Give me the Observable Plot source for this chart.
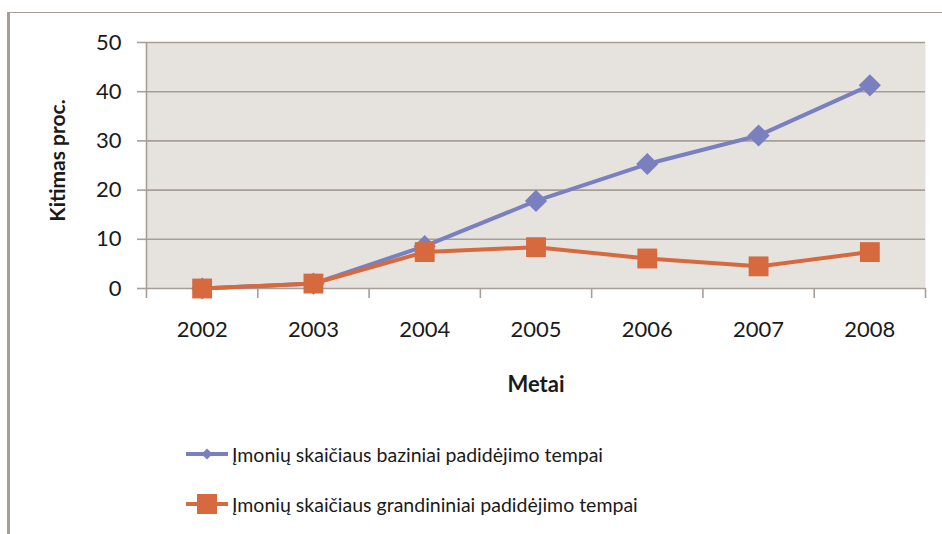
<!DOCTYPE html>
<html>
<head>
<meta charset="utf-8">
<script src="https://cdn.jsdelivr.net/npm/d3@7"></script>
<script src="https://cdn.jsdelivr.net/npm/@observablehq/plot@0.6"></script>
<style>
  html, body { margin: 0; padding: 0; background: #fff; }
  #wrap { position: relative; width: 942px; height: 534px; overflow: hidden; font-family: Lato, sans-serif; }
  #border { position: absolute; left: 7px; top: 12px; width: 940px; height: 530px;
            border-left: 3px solid #a79e98; border-top: 1px solid #a79e98; box-sizing: border-box; }
  #chart { position: absolute; left: 0; top: 0; }
  #legend { position: absolute; left: 186px; top: 429px; font-size: 19.5px; color: #1a1a1a; }
  .row { display: flex; align-items: center; height: 50px; }
  .row svg { margin-right: 4px; }
</style>
</head>
<body>
<div id="wrap">
  <div id="border"></div>
  <div id="chart"></div>
  <div id="legend"></div>
</div>
<script>
const years = [2002, 2003, 2004, 2005, 2006, 2007, 2008];
const bazinis = [0, 1.0, 8.6, 17.8, 25.3, 31.1, 41.3];
const grandininis = [0, 1.0, 7.4, 8.4, 6.1, 4.5, 7.4];
const yTicks = [0, 10, 20, 30, 40, 50];
const seriesNames = ["Įmonių skaičiaus baziniai padidėjimo tempai", "Įmonių skaičiaus grandininiai padidėjimo tempai"];
const yTitle = "Kitimas proc.";
const xTitle = "Metai";

const blue = "#7a80bf";
const orange = "#d6693d";
const grid = "#a89e98";
const bg = "#e6e3df";

const boundaries = years.map(y => y - 0.5).concat([years[years.length - 1] + 0.5]);
const baseData = years.map((y, i) => ({year: y, value: bazinis[i]}));
const chainData = years.map((y, i) => ({year: y, value: grandininis[i]}));

const chart = Plot.plot({
  width: 942,
  height: 410,
  marginLeft: 146,
  marginRight: 17,
  marginTop: 42,
  marginBottom: 122,
  style: {fontFamily: "Lato, sans-serif", fontSize: "22px", color: "#1a1a1a", background: "transparent"},
  x: {type: "linear", domain: [boundaries[0], boundaries[boundaries.length - 1]]},
  y: {domain: [0, 50]},
  marks: [
    Plot.frame({fill: bg, stroke: "none"}),
    Plot.ruleY(yTicks, {stroke: grid, strokeWidth: 1.6}),
    Plot.axisY({ticks: yTicks, tickSize: 9, tickPadding: 16, stroke: grid, strokeWidth: 1.6, fontSize: 22, label: null}),
    Plot.ruleX([boundaries[0]], {y1: 0, y2: 50, stroke: grid, strokeWidth: 1.6}),
    Plot.axisX({ticks: boundaries, tickSize: 10, tickFormat: () => "", stroke: grid, strokeWidth: 1.6, label: null}),
    Plot.axisX({ticks: years, tickSize: 0, tickPadding: 33, tickFormat: d => String(d), fontSize: 22, label: null}),
    Plot.line(baseData, {x: "year", y: "value", stroke: blue, strokeWidth: 4}),
    Plot.dot(baseData, {x: "year", y: "value", symbol: "diamond2", r: 10, fill: blue, stroke: "none"}),
    Plot.line(chainData, {x: "year", y: "value", stroke: orange, strokeWidth: 4}),
    Plot.dot(chainData, {x: "year", y: "value", symbol: "square", r: 11.2, fill: orange, stroke: "none"}),
    Plot.text([xTitle], {frameAnchor: "bottom", dy: 96, lineAnchor: "middle", fontWeight: "bold", fontSize: 22}),
    Plot.text([yTitle], {frameAnchor: "left", dx: -88, dy: -5, rotate: -90, textAnchor: "middle", lineAnchor: "middle", fontWeight: "bold", fontSize: 21})
  ]
});
document.getElementById("chart").appendChild(chart);

// Legend
const legend = document.getElementById("legend");
const swatches = [
  {color: blue, shape: "diamond"},
  {color: orange, shape: "square"}
];
seriesNames.forEach((name, i) => {
  const row = document.createElement("div");
  row.className = "row";
  const s = swatches[i];
  const marker = s.shape === "diamond"
    ? `<path d="M21,11.5 L26.5,17 L21,22.5 L15.5,17 Z" fill="${s.color}"/>`
    : `<rect x="11" y="7" width="20" height="20" fill="${s.color}"/>`;
  row.innerHTML = `<svg width="42" height="34" viewBox="0 0 42 34"><line x1="0" x2="42" y1="17" y2="17" stroke="${s.color}" stroke-width="4"/>${marker}</svg><span>${name}</span>`;
  legend.appendChild(row);
});
</script>
</body>
</html>
